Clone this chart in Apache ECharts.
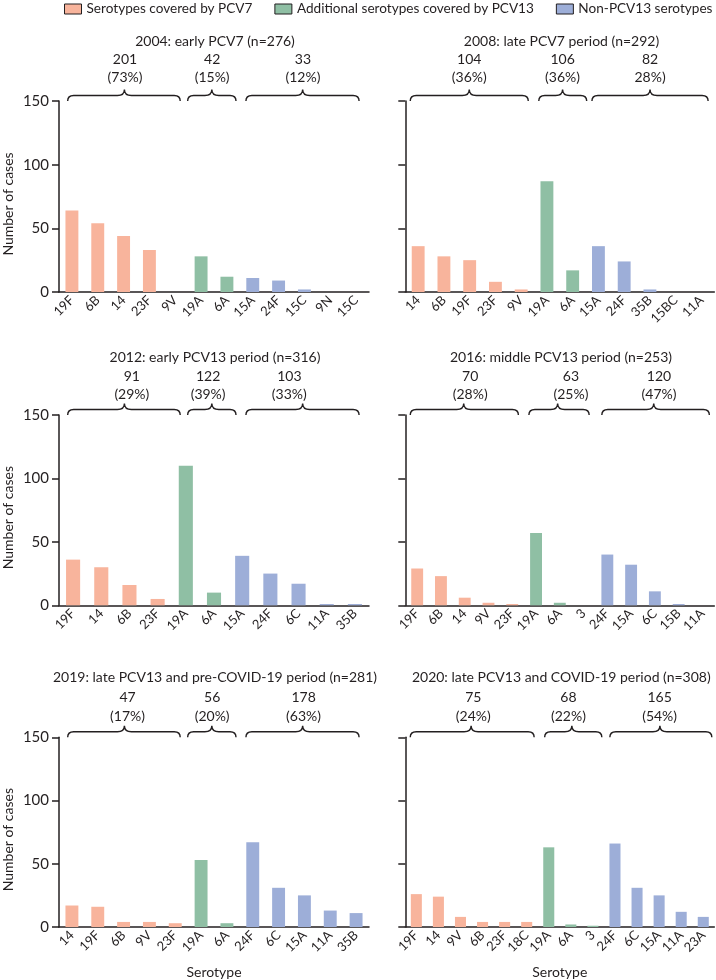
<!DOCTYPE html>
<html><head><meta charset="utf-8">
<script src="https://cdn.jsdelivr.net/npm/echarts@6/dist/echarts.min.js"></script>
<style>html,body{margin:0;padding:0;background:#fff}#c{width:716px;height:980px}</style>
</head><body><div id="c"></div>
<script>
// ---------- DATA ----------
const legendNames = ['Serotypes covered by PCV7', 'Additional serotypes covered by PCV13', 'Non-PCV13 serotypes'];
const panelTitles = [
  '2004: early PCV7 (n=276)',
  '2008: late PCV7 period (n=292)',
  '2012: early PCV13 period (n=316)',
  '2016: middle PCV13 period (n=253)',
  '2019: late PCV13 and pre-COVID-19 period (n=281)',
  '2020: late PCV13 and COVID-19 period (n=308)'
];
const cats2004 = ['19F', '6B', '14', '23F', '9V', '19A', '6A', '15A', '24F', '15C', '9N', '15C'];
const vals2004 = [64, 54, 44, 33, 0, 28, 12, 11, 9, 2, 0, 0];
const cats2008 = ['14', '6B', '19F', '23F', '9V', '19A', '6A', '15A', '24F', '35B', '15BC', '11A'];
const vals2008 = [36, 28, 25, 8, 2, 87, 17, 36, 24, 2, 0, 0];
const cats2012 = ['19F', '14', '6B', '23F', '19A', '6A', '15A', '24F', '6C', '11A', '35B'];
const vals2012 = [36, 30, 16, 5, 110, 10, 39, 25, 17, 1, 1];
const cats2016 = ['19F', '6B', '14', '9V', '23F', '19A', '6A', '3', '24F', '15A', '6C', '15B', '11A'];
const vals2016 = [29, 23, 6, 2, 1, 57, 2, 0, 40, 32, 11, 1, 0];
const cats2019 = ['14', '19F', '6B', '9V', '23F', '19A', '6A', '24F', '6C', '15A', '11A', '35B'];
const vals2019 = [17, 16, 4, 4, 3, 53, 3, 67, 31, 25, 13, 11];
const cats2020 = ['19F', '14', '9V', '6B', '23F', '18C', '19A', '6A', '3', '24F', '6C', '15A', '11A', '23A'];
const vals2020 = [26, 24, 8, 4, 4, 4, 63, 2, 1, 66, 31, 25, 12, 8];
// number of categories in each group (PCV7, PCV13 additional, non-PCV13)
const groupSizes = [[5, 2, 5], [5, 2, 5], [4, 2, 5], [5, 3, 5], [5, 2, 5], [6, 3, 5]];
// group totals and percentages shown above braces
const groupCounts = [['201', '42', '33'], ['104', '106', '82'], ['91', '122', '103'], ['70', '63', '120'], ['47', '56', '178'], ['75', '68', '165']];
const groupPcts = [['(73%)', '(15%)', '(12%)'], ['(36%)', '(36%)', '28%)'], ['(29%)', '(39%)', '(33%)'], ['(28%)', '(25%)', '(47%)'], ['(17%)', '(20%)', '(63%)'], ['(24%)', '(22%)', '(54%)']];
const yTicks = [0, 50, 100, 150];

// ---------- LAYOUT / STYLE ----------
const FONT = 'Lato';
const INK = '#231f20';
const COLORS = ['#f8b49c', '#8fbfa4', '#9daed8'];
const GRIDS = [
  { left: 59, top: 101, width: 310, height: 191 },
  { left: 405.3, top: 101, width: 309, height: 191 },
  { left: 59, top: 415, width: 310, height: 190.3 },
  { left: 405.3, top: 415, width: 309, height: 190.3 },
  { left: 59, top: 737.3, width: 310, height: 190 },
  { left: 405.3, top: 737.3, width: 309, height: 190 }
];
const TITLE_POS = [[210, 36.7], [556.5, 36.7], [210, 352.7], [556, 352.7], [210, 672.7], [556.3, 672.7]];
const LABEL_DY = [[-42, -23.3], [-38.3, -20.7], [-39.6, -21.3]];
// brace geometry as fractions of the plot width: [start, end, tip, labelCentre]
const BRACE_LAYOUT = [
  [[0.028, 0.391, 0.211, 0.213], [0.415, 0.571, 0.493, 0.494], [0.603, 0.968, 0.786, 0.787]],
  [[0.016, 0.398, 0.207, 0.207], [0.432, 0.587, 0.509, 0.509], [0.604, 0.980, 0.792, 0.792]],
  [[0.028, 0.391, 0.211, 0.235], [0.415, 0.571, 0.493, 0.481], [0.603, 0.968, 0.786, 0.743]],
  [[0.016, 0.366, 0.189, 0.210], [0.400, 0.595, 0.493, 0.536], [0.636, 0.984, 0.804, 0.821]],
  [[0.028, 0.391, 0.211, 0.221], [0.415, 0.571, 0.493, 0.494], [0.603, 0.968, 0.786, 0.789]],
  [[0.016, 0.417, 0.213, 0.220], [0.451, 0.636, 0.539, 0.528], [0.662, 0.992, 0.824, 0.823]]
];

const panels = [
  [cats2004, vals2004], [cats2008, vals2008], [cats2012, vals2012],
  [cats2016, vals2016], [cats2019, vals2019], [cats2020, vals2020]
];

const grid = [], xAxis = [], yAxis = [], series = [], title = [];
panels.forEach(([cats, vals], p) => {
  const isLeft = p % 2 === 0;
  const isBottom = p >= 4;
  const row = Math.floor(p / 2);
  grid.push(Object.assign({ containLabel: false }, GRIDS[p]));
  title.push({
    text: panelTitles[p], left: TITLE_POS[p][0], top: TITLE_POS[p][1] - 9, textAlign: 'center',
    textStyle: { fontFamily: FONT, fontSize: 14, fontWeight: 'normal', color: INK, lineHeight: 18 }
  });
  xAxis.push({
    type: 'category', gridIndex: p, data: cats,
    axisLine: { lineStyle: { color: INK, width: 1.5 } },
    axisTick: { length: 6, lineStyle: { color: INK, width: 1.5 } },
    axisLabel: { interval: 0, rotate: 45, margin: 6, fontFamily: FONT, fontSize: 13, color: INK },
    name: isBottom ? 'Serotype' : '', nameLocation: 'middle', nameGap: 38,
    nameTextStyle: { fontFamily: FONT, fontSize: 14, color: INK }
  });
  xAxis.push({ type: 'value', gridIndex: p, min: 0, max: 1, show: false });
  yAxis.push({
    type: 'value', gridIndex: p, min: yTicks[0], max: yTicks[yTicks.length - 1], interval: 50,
    splitLine: { show: false },
    axisLine: { show: true, lineStyle: { color: INK, width: 1.5 } },
    axisTick: { show: true, length: 7, lineStyle: { color: INK, width: 1.5 } },
    axisLabel: { show: isLeft, margin: 10, fontFamily: FONT, fontSize: 15, color: INK },
    name: isLeft ? 'Number of cases' : '', nameLocation: 'middle', nameGap: 44, nameRotate: 90,
    nameTextStyle: { fontFamily: FONT, fontSize: 14, color: INK, padding: [0, 15, 0, 0] }
  });
  // one bar series per group, stacked so each bar stays centred on its category
  let start = 0;
  groupSizes[p].forEach((size, g) => {
    const data = vals.map((v, i) => (i >= start && i < start + size) ? v : '-');
    start += size;
    series.push({
      type: 'bar', name: legendNames[g], xAxisIndex: 2 * p, yAxisIndex: p,
      stack: 'panel' + p, barWidth: '50%', data,
      itemStyle: { color: COLORS[g] }, silent: true
    });
  });
  // braces with group totals
  const rowDy = LABEL_DY[row];
  series.push({
    type: 'custom', xAxisIndex: 2 * p + 1, yAxisIndex: p, silent: true, clip: false,
    data: BRACE_LAYOUT[p].map((b, g) => [b[0], b[1], b[2], b[3], g]),
    renderItem: function (params, api) {
      const yTop = yTicks[yTicks.length - 1];
      const p0 = api.coord([api.value(0), yTop]);
      const x0 = p0[0], base = p0[1];
      const x1 = api.coord([api.value(1), yTop])[0];
      const xp = api.coord([api.value(2), yTop])[0];
      const xl = api.coord([api.value(3), yTop])[0];
      const g = api.value(4);
      const ly = base - 5.5, ty = base - 11.5;
      const d = 'M' + x0 + ' ' + base +
        ' Q' + x0 + ' ' + ly + ' ' + (x0 + 6) + ' ' + ly +
        ' L' + (xp - 7) + ' ' + ly +
        ' Q' + xp + ' ' + ly + ' ' + xp + ' ' + ty +
        ' Q' + xp + ' ' + ly + ' ' + (xp + 7) + ' ' + ly +
        ' L' + (x1 - 6) + ' ' + ly +
        ' Q' + x1 + ' ' + ly + ' ' + x1 + ' ' + base;
      return {
        type: 'group', children: [
          { type: 'path', shape: { pathData: d }, style: { fill: 'none', stroke: INK, lineWidth: 1.4 } },
          { type: 'text', style: { text: groupCounts[p][g], x: xl, y: base + rowDy[0], align: 'center', verticalAlign: 'middle', fontFamily: FONT, fontSize: 14, fill: INK } },
          { type: 'text', style: { text: groupPcts[p][g], x: xl, y: base + rowDy[1], align: 'center', verticalAlign: 'middle', fontFamily: FONT, fontSize: 14, fill: INK } }
        ]
      };
    }
  });
});

const chart = echarts.init(document.getElementById('c'), null, { renderer: 'canvas' });
chart.setOption({
  animation: false,
  backgroundColor: '#ffffff',
  title,
  legend: {
    data: legendNames, top: -1, left: 64, width: 700, orient: 'horizontal',
    itemWidth: 17, itemHeight: 10, itemGap: 22, icon: 'rect', padding: [3, 0, 3, 0],
    itemStyle: { borderColor: INK, borderWidth: 1 },
    textStyle: { fontFamily: FONT, fontSize: 13.6, color: INK }
  },
  grid, xAxis, yAxis, series
});
</script></body></html>
